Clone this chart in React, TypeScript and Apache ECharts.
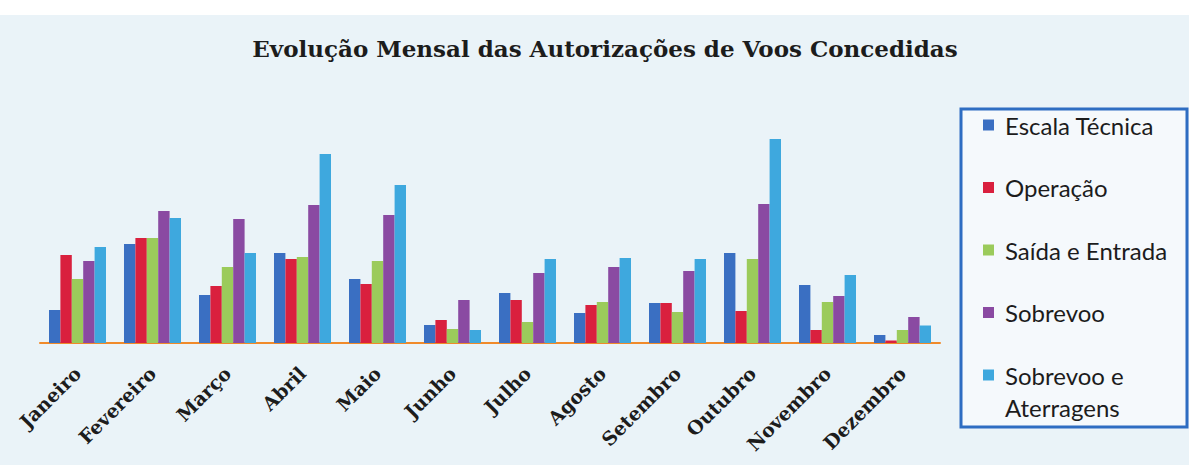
import React, { useEffect, useRef } from "react";
import * as echarts from "echarts";

const months = ["Janeiro", "Fevereiro", "Março", "Abril", "Maio", "Junho", "Julho", "Agosto", "Setembro", "Outubro", "Novembro", "Dezembro"];
const seriesNames = ["Escala Técnica", "Operação", "Saída e Entrada", "Sobrevoo", "Sobrevoo e Aterragens"];
const escalaTecnica = [33, 99, 48, 90, 64, 18, 50, 30, 40, 90, 58, 8];
const operacao = [88, 105, 57, 84, 59, 23, 43, 38, 40, 32, 13, 2.5];
const saidaEntrada = [64, 105, 76, 86, 82, 14, 21, 41, 31, 84, 41, 13];
const sobrevoo = [82, 132, 124, 138, 128, 43, 70, 76, 72, 139, 47, 26];
const sobrevooAterragens = [96, 125, 90, 189, 158, 13, 84, 85, 84, 204, 68, 17.5];
const colors = ["#3a6fc2", "#d9203e", "#9bcb5b", "#8a4aa2", "#3ea8de"];

export default function App() {
  const ref = useRef<HTMLDivElement>(null);
  useEffect(() => {
    if (!ref.current) return;
    const chart = echarts.init(ref.current, null, { renderer: "svg" });
    const values = [escalaTecnica, operacao, saidaEntrada, sobrevoo, sobrevooAterragens];
    chart.setOption({
      animation: false,
      backgroundColor: "#eaf3f8",
      title: {
        text: "Evolução Mensal das Autorizações de Voos Concedidas",
        left: 600,
        textAlign: "center",
        top: 32,
        textStyle: { fontFamily: "DejaVu Serif", fontWeight: "bold", fontSize: 23, color: "#1c1c1c" },
      },
      graphic: [
        { type: "rect", z: 0, shape: { x: 0, y: 0, width: 1189, height: 15 }, style: { fill: "#ffffff" } },
        { type: "rect", z: 1, shape: { x: 961, y: 109, width: 226, height: 318 }, style: { fill: "#f5f9fc", stroke: "#2e6dc2", lineWidth: 3 } },
        { type: "text", z: 5, left: 1005, top: 395, style: { text: "Aterragens", font: "24px Lato", fill: "#1c1c1c" } },
      ],
      legend: {
        orient: "vertical",
        left: 978,
        top: 108,
        itemWidth: 11,
        itemHeight: 11,
        itemGap: 38.5,
        icon: "rect",
        data: seriesNames,
        formatter: (n: string) => (n === "Sobrevoo e Aterragens" ? "Sobrevoo e" : n),
        textStyle: { fontFamily: "Lato", fontSize: 24, color: "#1c1c1c", lineHeight: 24, padding: [0, 0, 0, 6] },
      },
      grid: { left: 40, right: 249, top: 123, height: 220 },
      xAxis: {
        type: "category",
        data: months,
        axisLine: { lineStyle: { color: "#f08a2a", width: 2 } },
        axisTick: { show: false },
        axisLabel: {
          rotate: 45,
          margin: 27,
          interval: 0,
          fontFamily: "DejaVu Serif",
          fontWeight: "bold",
          fontSize: 19,
          color: "#1c1c1c",
        },
      },
      yAxis: { type: "value", min: 0, max: 220, show: false, splitLine: { show: false } },
      series: seriesNames.map((name, i) => ({
        name,
        type: "bar",
        data: values[i],
        barGap: "0%",
        barCategoryGap: "24%",
        itemStyle: { color: colors[i] },
      })),
    });
    return () => chart.dispose();
  }, []);
  return <div ref={ref} style={{ position: "absolute", left: 0, top: 0, width: 1189, height: 465 }} />;
}
